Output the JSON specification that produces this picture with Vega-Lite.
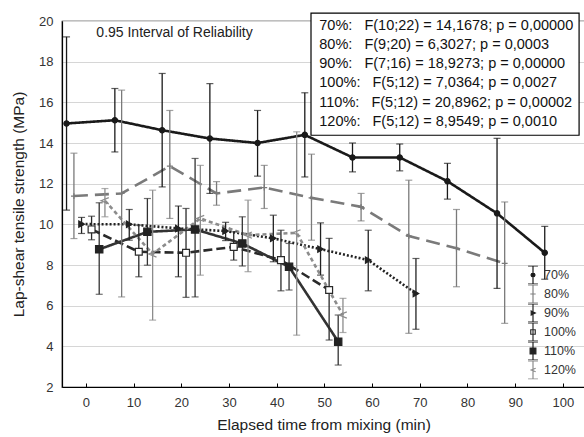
{
  "$schema": "https://vega.github.io/schema/vega-lite/v6.json",
  "width": 523,
  "height": 366,
  "autosize": {"type": "none"},
  "padding": {"left": 62, "top": 21, "right": 0, "bottom": 50},
  "background": "white",
  "config": {
    "font": "Liberation Sans",
    "view": {"stroke": "#000000", "strokeWidth": 1.2},
    "axis": {"labelFont": "Liberation Sans", "titleFont": "Liberation Sans", "labelColor": "#333333", "titleColor": "#222222", "titleFontWeight": "normal", "domainColor": "#000000", "domainWidth": 1.2, "tickColor": "#000000"},
    "legend": {"orient": "none", "legendX": 461, "legendY": 244.5, "title": null, "padding": 0, "rowPadding": -0.5, "clipHeight": 19, "symbolSize": 324, "symbolStrokeWidth": 1.2, "labelFontSize": 12.5, "labelColor": "#333333", "labelOffset": 1, "labelFont": "Liberation Sans"}
  },
  "datasets": {
    "pts": [
      {"s": "70%", "x": -4.05, "y": 14.96, "lo": 10.7, "hi": 19.22},
      {"s": "70%", "x": 6.08, "y": 15.12, "lo": 13.56, "hi": 16.68},
      {"s": "70%", "x": 16.0, "y": 14.63, "lo": 11.84, "hi": 17.42},
      {"s": "70%", "x": 26.0, "y": 14.22, "lo": 11.52, "hi": 16.92},
      {"s": "70%", "x": 36.0, "y": 14.0, "lo": 12.37, "hi": 15.6},
      {"s": "70%", "x": 45.9, "y": 14.4, "lo": 12.33, "hi": 16.47},
      {"s": "70%", "x": 55.9, "y": 13.29, "lo": 12.58, "hi": 14.0},
      {"s": "70%", "x": 65.8, "y": 13.29, "lo": 12.63, "hi": 13.95},
      {"s": "70%", "x": 75.8, "y": 12.12, "lo": 11.24, "hi": 13.0},
      {"s": "70%", "x": 86.2, "y": 10.54, "lo": 6.85, "hi": 14.23},
      {"s": "70%", "x": 96.2, "y": 8.6, "lo": 7.3, "hi": 9.9},
      {"s": "80%", "x": -2.5, "y": 11.39, "lo": 9.3, "hi": 13.5},
      {"s": "80%", "x": 7.5, "y": 11.52, "lo": 6.43, "hi": 16.6},
      {"s": "80%", "x": 17.6, "y": 12.86, "lo": 10.29, "hi": 15.6},
      {"s": "80%", "x": 27.4, "y": 11.52, "lo": 10.94, "hi": 12.1},
      {"s": "80%", "x": 37.4, "y": 11.81, "lo": 10.78, "hi": 12.9},
      {"s": "80%", "x": 47.3, "y": 11.3, "lo": 9.22, "hi": 13.45},
      {"s": "80%", "x": 57.7, "y": 10.86, "lo": 10.17, "hi": 11.52},
      {"s": "80%", "x": 67.7, "y": 9.42, "lo": 4.64, "hi": 12.17},
      {"s": "80%", "x": 77.7, "y": 8.82, "lo": 6.93, "hi": 10.73},
      {"s": "80%", "x": 87.8, "y": 8.08, "lo": 5.13, "hi": 11.1},
      {"s": "90%", "x": -0.9, "y": 10.01, "lo": 9.55, "hi": 10.34},
      {"s": "90%", "x": 9.1, "y": 10.0, "lo": 9.22, "hi": 10.73},
      {"s": "90%", "x": 19.4, "y": 9.8, "lo": 7.42, "hi": 10.9},
      {"s": "90%", "x": 29.3, "y": 9.67, "lo": 9.2, "hi": 10.1},
      {"s": "90%", "x": 39.3, "y": 9.31, "lo": 8.16, "hi": 10.45},
      {"s": "90%", "x": 49.2, "y": 8.78, "lo": 7.5, "hi": 10.07},
      {"s": "90%", "x": 59.2, "y": 8.24, "lo": 6.73, "hi": 9.71},
      {"s": "90%", "x": 69.2, "y": 6.6, "lo": 4.84, "hi": 8.32},
      {"s": "100%", "x": 1.2, "y": 9.75, "lo": 9.24, "hi": 10.4},
      {"s": "100%", "x": 11.1, "y": 8.65, "lo": 7.42, "hi": 9.96},
      {"s": "100%", "x": 21.0, "y": 8.6, "lo": 6.41, "hi": 10.78},
      {"s": "100%", "x": 31.0, "y": 8.89, "lo": 8.24, "hi": 9.63},
      {"s": "100%", "x": 40.9, "y": 8.24, "lo": 6.73, "hi": 9.71},
      {"s": "100%", "x": 51.0, "y": 6.77, "lo": 4.31, "hi": 9.31},
      {"s": "110%", "x": 2.8, "y": 8.77, "lo": 6.56, "hi": 11.06},
      {"s": "110%", "x": 12.9, "y": 9.63, "lo": 7.99, "hi": 11.27},
      {"s": "110%", "x": 22.9, "y": 9.75, "lo": 6.43, "hi": 13.24},
      {"s": "110%", "x": 32.8, "y": 9.06, "lo": 7.95, "hi": 10.37},
      {"s": "110%", "x": 42.6, "y": 7.91, "lo": 6.77, "hi": 9.06},
      {"s": "110%", "x": 52.9, "y": 4.23, "lo": 3.08, "hi": 5.54},
      {"s": "120%", "x": 4.0, "y": 11.16, "lo": 10.37, "hi": 11.76},
      {"s": "120%", "x": 14.0, "y": 8.54, "lo": 5.29, "hi": 11.68},
      {"s": "120%", "x": 24.0, "y": 10.29, "lo": 7.5, "hi": 12.9},
      {"s": "120%", "x": 34.0, "y": 9.47, "lo": 7.67, "hi": 11.19},
      {"s": "120%", "x": 44.2, "y": 9.58, "lo": 4.55, "hi": 14.55},
      {"s": "120%", "x": 53.9, "y": 5.54, "lo": 4.68, "hi": 6.36}
    ]
  },
  "layer": [
    {
      "data": {"name": "pts"},
      "mark": {"type": "line", "strokeCap": "butt"},
      "encoding": {
        "x": {"field": "x", "type": "quantitative", "scale": {"domain": [-5, 104.64], "nice": false, "zero": false},
          "axis": {"orient": "bottom", "values": [0, 10, 20, 30, 40, 50, 60, 70, 80, 90, 100], "grid": false, "tickSize": -4, "labelFontSize": 13, "labelPadding": 13, "title": "Elapsed time from mixing (min)", "titleFontSize": 15.5, "titlePadding": 8}},
        "y": {"field": "y", "type": "quantitative", "scale": {"domain": [2, 20], "nice": false, "zero": false},
          "axis": {"values": [2, 4, 6, 8, 10, 12, 14, 16, 18, 20], "grid": true, "gridColor": "#d6d6d6", "ticks": false, "labelFontSize": 13, "labelPadding": 9, "title": "Lap-shear tensile strength (MPa)", "titleFontSize": 15.5, "titlePadding": 12}},
        "order": {"field": "x", "type": "quantitative"},
        "stroke": {"field": "s", "type": "nominal", "legend": null, "scale": {"domain": ["70%", "80%", "90%", "100%", "110%", "120%"], "range": ["#1a1a1a", "#7a7a7a", "#222222", "#2a2a2a", "#333333", "#8c8c8c"]}},
        "strokeDash": {"field": "s", "type": "nominal", "legend": null, "scale": {"domain": ["70%", "80%", "90%", "100%", "110%", "120%"], "range": [[1, 0], [14, 7], [2, 2], [9, 4], [1, 0], [4, 3]]}},
        "strokeWidth": {"field": "s", "type": "nominal", "legend": null, "scale": {"domain": ["70%", "80%", "90%", "100%", "110%", "120%"], "range": [2.6, 2.6, 1.3, 1.5, 1.3, 1.5]}}
      }
    },
    {
      "data": {"name": "pts"},
      "mark": {"type": "errorbar", "ticks": {"size": 7, "thickness": 1.2}, "rule": {"strokeWidth": 1.3}},
      "encoding": {
        "x": {"field": "x", "type": "quantitative"},
        "y": {"field": "lo", "type": "quantitative", "title": "Lap-shear tensile strength (MPa)"},
        "y2": {"field": "hi"},
        "color": {"field": "s", "type": "nominal", "legend": null, "scale": {"domain": ["70%", "80%", "90%", "100%", "110%", "120%"], "range": ["#1a1a1a", "#7a7a7a", "#222222", "#2a2a2a", "#333333", "#8c8c8c"]}}
      }
    },
    {
      "data": {"name": "pts"},
      "mark": {"type": "point", "filled": true, "strokeWidth": 1.2, "opacity": 1},
      "encoding": {
        "x": {"field": "x", "type": "quantitative"},
        "y": {"field": "y", "type": "quantitative"},
        "shape": {"field": "s", "type": "nominal", "legend": null, "scale": {"domain": ["70%", "80%", "90%", "100%", "110%", "120%"], "range": ["circle", "M-1,0H1M0,-1V1", "triangle-right", "square", "square", "M1,-0.8L-1,0L1,0.8"]}},
        "size": {"field": "s", "type": "nominal", "legend": null, "scale": {"domain": ["70%", "80%", "90%", "100%", "110%", "120%"], "range": [28, 60, 30, 34, 64, 30]}},
        "fill": {"field": "s", "type": "nominal", "legend": null, "scale": {"domain": ["70%", "80%", "90%", "100%", "110%", "120%"], "range": ["#1a1a1a", "transparent", "#222222", "#ffffff", "#222222", "transparent"]}},
        "stroke": {"field": "s", "type": "nominal", "legend": null, "scale": {"domain": ["70%", "80%", "90%", "100%", "110%", "120%"], "range": ["#1a1a1a", "#7a7a7a", "#222222", "#2a2a2a", "#222222", "#8c8c8c"]}}
      }
    },
    {
      "data": {"name": "pts"},
      "transform": [{"filter": "false"}],
      "mark": {"type": "point", "filled": true, "strokeWidth": 1.2, "opacity": 1},
      "encoding": {
        "x": {"field": "x", "type": "quantitative"},
        "y": {"field": "y", "type": "quantitative"},
        "shape": {"field": "s", "type": "nominal", "scale": {"domain": ["70%", "80%", "90%", "100%", "110%", "120%"], "range": [
          "M-0.55,-1H0.55M0,-1V1M-0.55,1H0.55M0.22,0L0.156,0.156L0,0.22L-0.156,0.156L-0.22,0L-0.156,-0.156L0,-0.22L0.156,-0.156Z",
          "M-0.55,-1H0.55M0,-1V1M-0.55,1H0.55M-0.3,0H0.3",
          "M-0.55,-1H0.55M0,-1V1M-0.55,1H0.55M-0.2,-0.22L0.25,0L-0.2,0.22Z",
          "M-0.55,-1H0.55M0,-1V1M-0.55,1H0.55M-0.25,-0.25H0.25V0.25H-0.25Z",
          "M-0.55,-1H0.55M0,-1V1M-0.55,1H0.55M-0.32,-0.32H0.32V0.32H-0.32Z",
          "M-0.55,-1H0.55M0,-1V1M-0.55,1H0.55M0.3,-0.2L-0.2,0L0.3,0.2"]}},
        "fill": {"field": "s", "type": "nominal", "scale": {"domain": ["70%", "80%", "90%", "100%", "110%", "120%"], "range": ["#1a1a1a", "transparent", "#222222", "#ffffff", "#222222", "transparent"]}},
        "stroke": {"field": "s", "type": "nominal", "scale": {"domain": ["70%", "80%", "90%", "100%", "110%", "120%"], "range": ["#1a1a1a", "#808080", "#222222", "#2a2a2a", "#222222", "#8c8c8c"]}}
      }
    },
    {
      "data": {"values": [{}]},
      "mark": {"type": "text", "text": "0.95 Interval of Reliability", "align": "left", "baseline": "alphabetic", "fontSize": 14, "color": "#222222", "font": "Liberation Sans"},
      "encoding": {"x": {"datum": 2.2}, "y": {"datum": 19.2}}
    },
    {
      "data": {"values": [{}]},
      "mark": {"type": "rect", "fill": "#ffffff", "stroke": "#000000", "strokeWidth": 1.2},
      "encoding": {"x": {"datum": 47.2}, "x2": {"datum": 103.4}, "y": {"datum": 20.39}, "y2": {"datum": 14.38}}
    },
    {
      "data": {"values": [{}]},
      "mark": {"type": "text", "align": "left", "baseline": "alphabetic", "fontSize": 14.5, "lineHeight": 19.3, "color": "#111111", "font": "Liberation Sans",
        "text": ["70%:\u00a0\u00a0\u00a0F(10;22) = 14,1678; p = 0,00000", "80%:\u00a0\u00a0\u00a0F(9;20) = 6,3027; p = 0,0003", "90%:\u00a0\u00a0\u00a0F(7;16) = 18,9273; p = 0,00000", "100%:\u00a0\u00a0\u00a0F(5;12) = 7,0364; p = 0,0027", "110%:\u00a0\u00a0\u00a0F(5;12) = 20,8962; p = 0,00002", "120%:\u00a0\u00a0\u00a0F(5;12) = 8,9549; p = 0,0010"]},
      "encoding": {"x": {"datum": 48.94}, "y": {"datum": 19.58}}
    }
  ],
  "resolve": {"scale": {"shape": "independent", "size": "independent", "fill": "independent", "stroke": "independent", "color": "independent", "strokeDash": "independent", "strokeWidth": "independent"}}
}
